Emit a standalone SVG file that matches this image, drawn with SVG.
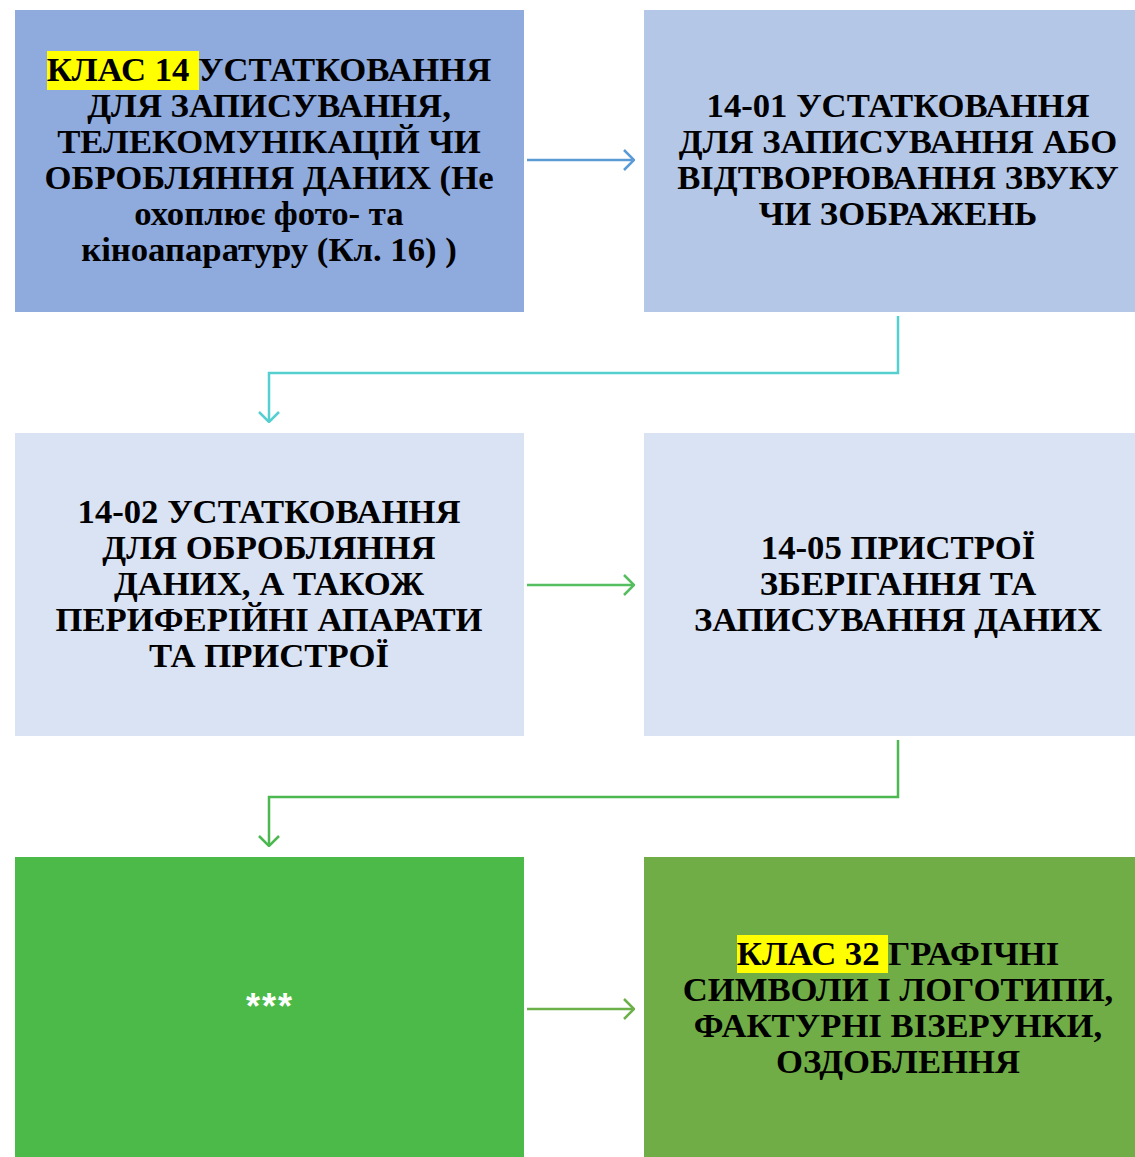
<svg xmlns="http://www.w3.org/2000/svg" width="1135" height="1157" viewBox="0 0 1135 1157">
<defs>
<style>
.t{font-family:"Liberation Serif","Times New Roman",serif;font-weight:bold;font-size:34.7px;fill:#000;text-anchor:middle}
.c{fill:none;stroke-width:2.5}
.hl{fill:#FFFF00}
</style>
<marker id="mb" viewBox="0 0 12 22" refX="11" refY="11" markerWidth="12" markerHeight="22" markerUnits="userSpaceOnUse" orient="auto"><path d="M1 1 L11 11 L1 21" fill="none" stroke="#5B9BD5" stroke-width="2.5"/></marker>
<marker id="mt" viewBox="0 0 12 22" refX="11" refY="11" markerWidth="12" markerHeight="22" markerUnits="userSpaceOnUse" orient="auto"><path d="M1 1 L11 11 L1 21" fill="none" stroke="#56CFD0" stroke-width="2.5"/></marker>
<marker id="mg" viewBox="0 0 12 22" refX="11" refY="11" markerWidth="12" markerHeight="22" markerUnits="userSpaceOnUse" orient="auto"><path d="M1 1 L11 11 L1 21" fill="none" stroke="#55BE5F" stroke-width="2.5"/></marker>
<marker id="mg2" viewBox="0 0 12 22" refX="11" refY="11" markerWidth="12" markerHeight="22" markerUnits="userSpaceOnUse" orient="auto"><path d="M1 1 L11 11 L1 21" fill="none" stroke="#4CB850" stroke-width="2.5"/></marker>
<marker id="mg3" viewBox="0 0 12 22" refX="11" refY="11" markerWidth="12" markerHeight="22" markerUnits="userSpaceOnUse" orient="auto"><path d="M1 1 L11 11 L1 21" fill="none" stroke="#6BB048" stroke-width="2.5"/></marker>
</defs>
<rect width="1135" height="1157" fill="#fff"/>
<g id="n1">
<rect x="15" y="10" width="509" height="302" fill="#8FAADC"/>
<rect class="hl" x="47" y="51" width="152" height="39"/>
<text class="t" x="269" y="81">КЛАС 14 УСТАТКОВАННЯ</text>
<text class="t" x="269" y="117">ДЛЯ ЗАПИСУВАННЯ,</text>
<text class="t" x="269" y="153">ТЕЛЕКОМУНІКАЦІЙ ЧИ</text>
<text class="t" x="269" y="189">ОБРОБЛЯННЯ ДАНИХ (Не</text>
<text class="t" x="269" y="225">охоплює фото- та</text>
<text class="t" x="269" y="261">кіноапаратуру (Кл. 16) )</text>
</g>
<g id="n2">
<rect x="644" y="10" width="509" height="302" fill="#B4C7E7"/>
<text class="t" x="898" y="117">14-01 УСТАТКОВАННЯ</text>
<text class="t" x="898" y="153">ДЛЯ ЗАПИСУВАННЯ АБО</text>
<text class="t" x="898" y="189">ВІДТВОРЮВАННЯ ЗВУКУ</text>
<text class="t" x="898" y="225">ЧИ ЗОБРАЖЕНЬ</text>
</g>
<g id="n3">
<rect x="15" y="433" width="509" height="303" fill="#DAE3F3"/>
<text class="t" x="269" y="523">14-02 УСТАТКОВАННЯ</text>
<text class="t" x="269" y="559">ДЛЯ ОБРОБЛЯННЯ</text>
<text class="t" x="269" y="595">ДАНИХ, А ТАКОЖ</text>
<text class="t" x="269" y="631">ПЕРИФЕРІЙНІ АПАРАТИ</text>
<text class="t" x="269" y="667">ТА ПРИСТРОЇ</text>
</g>
<g id="n4">
<rect x="644" y="433" width="509" height="303" fill="#DAE3F3"/>
<text class="t" x="898" y="559">14-05 ПРИСТРОЇ</text>
<text class="t" x="898" y="595">ЗБЕРІГАННЯ ТА</text>
<text class="t" x="898" y="631">ЗАПИСУВАННЯ ДАНИХ</text>
</g>
<g id="n5">
<rect x="15" y="857" width="509" height="303" fill="#4BBA48"/>
<text x="270" y="1019" font-family="Liberation Sans, Arial, sans-serif" font-weight="bold" font-size="36" letter-spacing="2" fill="#fff" text-anchor="middle">***</text>
</g>
<g id="n6">
<rect x="644" y="857" width="509" height="303" fill="#70AD47"/>
<rect class="hl" x="737" y="935" width="151" height="38"/>
<text class="t" x="898" y="965">КЛАС 32 ГРАФІЧНІ</text>
<text class="t" x="898" y="1001">СИМВОЛИ І ЛОГОТИПИ,</text>
<text class="t" x="898" y="1037">ФАКТУРНІ ВІЗЕРУНКИ,</text>
<text class="t" x="898" y="1073">ОЗДОБЛЕННЯ</text>
</g>
<g id="connectors">
<path class="c" d="M527 160 H634" stroke="#5B9BD5" marker-end="url(#mb)"/>
<path class="c" d="M898 316 V373 H269 V422" stroke="#56CFD0" marker-end="url(#mt)"/>
<path class="c" d="M527 585 H634" stroke="#55BE5F" marker-end="url(#mg)"/>
<path class="c" d="M898 740 V797 H269 V846" stroke="#4CB850" marker-end="url(#mg2)"/>
<path class="c" d="M527 1009 H634" stroke="#6BB048" marker-end="url(#mg3)"/>
</g>
</svg>
